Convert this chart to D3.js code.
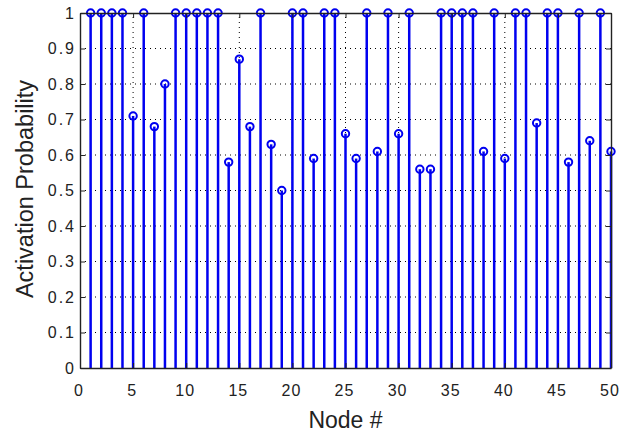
<!DOCTYPE html>
<html>
<head>
<meta charset="utf-8">
<script src="https://cdn.jsdelivr.net/npm/d3@7"></script>
<style>
  body { margin: 0; background: #fff; }
  text { font-family: "Liberation Sans", Arial, sans-serif; fill: #222; }
</style>
</head>
<body>
<div id="chart"></div>
<script>
// node numbers 1..50 and their activation probabilities
const nodes = d3.range(1, 51);
const probs = [
  1, 1, 1, 1, 0.71, 1, 0.68, 0.80, 1, 1,
  1, 1, 1, 0.58, 0.87, 0.68, 1, 0.63, 0.50, 1,
  1, 0.59, 1, 1, 0.66, 0.59, 1, 0.61, 1, 0.66,
  1, 0.56, 0.56, 1, 1, 1, 1, 0.61, 1, 0.59,
  1, 1, 0.69, 1, 1, 0.58, 1, 0.64, 1, 0.61
];
const xTicks = [0, 5, 10, 15, 20, 25, 30, 35, 40, 45, 50];
const yTicks = [0, 0.1, 0.2, 0.3, 0.4, 0.5, 0.6, 0.7, 0.8, 0.9, 1];

const width = 619, height = 437;
const margin = {top: 13, right: 8, bottom: 69, left: 80};

const svg = d3.select('#chart').append('svg')
  .attr('width', width)
  .attr('height', height);

const x = d3.scaleLinear().domain([0, 50]).range([margin.left, width - margin.right]);
const y = d3.scaleLinear().domain([0, 1]).range([height - margin.bottom, margin.top]);

// dotted grid
svg.append('g').selectAll('line')
  .data(yTicks.slice(1, -1))
  .enter().append('line')
  .attr('x1', x(0)).attr('x2', x(50))
  .attr('y1', d => y(d)).attr('y2', d => y(d))
  .attr('stroke', '#000').attr('stroke-width', 1)
  .attr('stroke-dasharray', '1,4');
svg.append('g').selectAll('line')
  .data(xTicks.slice(1, -1))
  .enter().append('line')
  .attr('y1', y(0)).attr('y2', y(1))
  .attr('x1', d => x(d)).attr('x2', d => x(d))
  .attr('stroke', '#000').attr('stroke-width', 1)
  .attr('stroke-dasharray', '1,4');

// stems
svg.append('g').selectAll('line')
  .data(nodes)
  .enter().append('line')
  .attr('x1', d => x(d)).attr('x2', d => x(d))
  .attr('y1', y(0)).attr('y2', (d, i) => y(probs[i]))
  .attr('stroke', '#0000f0').attr('stroke-width', 2.5);

// markers
svg.append('g').selectAll('circle')
  .data(nodes)
  .enter().append('circle')
  .attr('cx', d => x(d))
  .attr('cy', (d, i) => y(probs[i]))
  .attr('r', 3.7)
  .attr('fill', 'none')
  .attr('stroke', '#0000f0').attr('stroke-width', 2);

// axes, ticks inward like matlab
const axB = d3.axisBottom(x).tickValues(xTicks).tickSizeInner(-5).tickSizeOuter(0).tickPadding(17);
const axT = d3.axisTop(x).tickValues(xTicks).tickSizeInner(-5).tickSizeOuter(0).tickFormat('');
const axL = d3.axisLeft(y).tickValues(yTicks).tickSizeInner(-5).tickSizeOuter(0).tickPadding(4)
  .tickFormat(d => d === 0 || d === 1 ? d3.format('d')(d) : d3.format('.1f')(d));
const axR = d3.axisRight(y).tickValues(yTicks).tickSizeInner(-5).tickSizeOuter(0).tickFormat('');

function styleAxis(g) {
  g.selectAll('path').attr('stroke', '#222').attr('stroke-width', 1.4);
  g.selectAll('line').attr('stroke', '#222').attr('stroke-width', 1);
  g.selectAll('text').attr('font-size', 16).attr('fill', '#222')
    .attr('letter-spacing', 2)
    .attr('font-family', '"Liberation Sans", Arial, sans-serif');
}

svg.append('g').attr('transform', `translate(0,${y(0)})`).call(axB).call(styleAxis)
  .selectAll('text').attr('letter-spacing', 1).attr('dx', -1.5);
svg.append('g').attr('transform', `translate(0,${y(1)})`).call(axT).call(styleAxis);
svg.append('g').attr('transform', `translate(${x(0)},0)`).call(axL).call(styleAxis);
svg.append('g').attr('transform', `translate(${x(50)},0)`).call(axR).call(styleAxis);

// labels
svg.append('text')
  .attr('x', (x(0) + x(50)) / 2)
  .attr('y', 428)
  .attr('text-anchor', 'middle')
  .attr('font-size', 23)
  .text('Node #');

svg.append('text')
  .attr('transform', `translate(33,189) rotate(-90)`)
  .attr('text-anchor', 'middle')
  .attr('font-size', 23.5)
  .text('Activation Probability');
</script>
</body>
</html>
